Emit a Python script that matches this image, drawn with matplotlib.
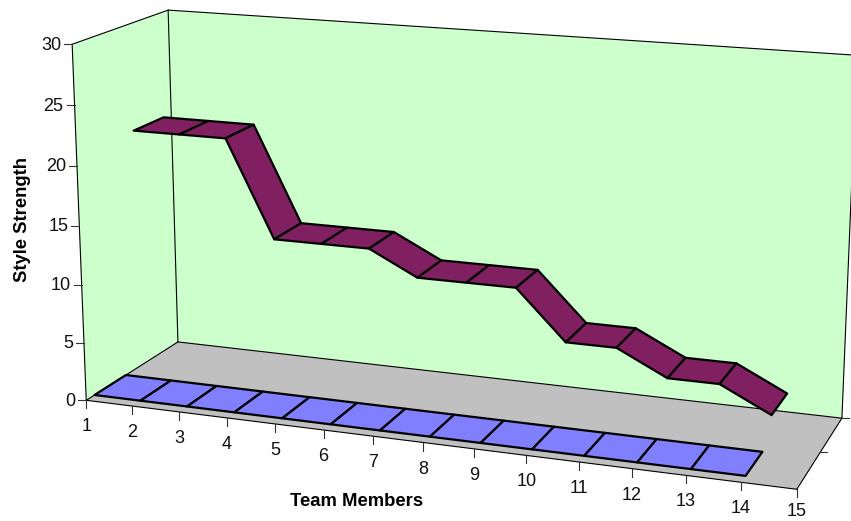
import numpy as np
import matplotlib
matplotlib.use('Agg')
import matplotlib.pyplot as plt
from matplotlib.patches import Polygon

plt.rcParams['font.family'] = ['Liberation Sans', 'DejaVu Sans']

# Data
members = list(range(1, 15))
row_front = [0, 0, 0, 0, 0, 0, 0, 0, 0, 0, 0, 0, 0, 0]
row_back = [20.83, 20.83, 20.83, 12.5, 12.5, 12.5, 10.42, 10.42, 10.42, 6.25, 6.25, 4.17, 4.17, 2.08]
x_ticks = list(range(1, 16))
y_ticks = [0, 5, 10, 15, 20, 25, 30]
depth_ticks = [0.5, 1.0]

# Camera: box corners (member, depth, strength) and where they land on the canvas
anchors = [((1, 0, 0), (86, 400)), ((15, 0, 0), (797, 489)), ((1, 1, 0), (178, 342)),
           ((15, 1, 0), (842, 418)), ((1, 0, 30), (72, 44)), ((1, 1, 30), (168, 10)),
           ((15, 1, 30), (857, 55.5)), ((1, 0, 15), (80, 226)), ((8, 0, 0), (423, 443))]
rows = []
for (x, d, z), (u, v) in anchors:
    rows.append([x, d, z, 1, 0, 0, 0, 0, -u*x, -u*d, -u*z, -u])
    rows.append([0, 0, 0, 0, x, d, z, 1, -v*x, -v*d, -v*z, -v])
cam = np.linalg.svd(np.array(rows, float))[2][-1].reshape(3, 4)


def project(x, d, z):
    h = cam @ np.array([x, d, z, 1.0])
    return h[0] / h[2], h[1] / h[2]


fig = plt.figure(figsize=(8.51, 5.21), dpi=100, facecolor='white')
ax = fig.add_axes([0, 0, 1, 1])
ax.set_xlim(0, 851)
ax.set_ylim(521, 0)
ax.axis('off')


def face(pts, color, lw=0.0, z=1):
    ax.add_patch(Polygon([project(*p) for p in pts], closed=True, facecolor=color,
                         edgecolor='black' if lw else 'none', linewidth=lw,
                         joinstyle='round', zorder=z))


def edge(a, b, lw=0.8, z=2):
    pa, pb = project(*a), project(*b)
    ax.plot([pa[0], pb[0]], [pa[1], pb[1]], color='black', lw=lw, zorder=z,
            solid_capstyle='round')


x0, x1 = x_ticks[0], x_ticks[-1]
ztop = y_ticks[-1]

# Walls and floor
face([(x0, 1, 0), (x1, 1, 0), (x1, 1, ztop), (x0, 1, ztop)], '#CCFFCC')
face([(x0, 0, 0), (x0, 1, 0), (x0, 1, ztop), (x0, 0, ztop)], '#CCFFCC')
face([(x0, 0, 0), (x1, 0, 0), (x1, 1, 0), (x0, 1, 0)], '#C0C0C0')
edge((x0, 0, 0), (x0, 0, ztop))
edge((x0, 0, ztop), (x0, 1, ztop))
edge((x0, 1, 0), (x0, 1, ztop))
edge((x0, 1, ztop), (x1, 1, ztop))
edge((x1, 1, 0), (x1, 1, ztop))
edge((x0, 0, 0), (x1, 0, 0))
edge((x1, 0, 0), (x1, 1, 0))
edge((x0, 0, 0), (x0, 1, 0))
edge((x0, 1, 0), (x1, 1, 0))


# Ribbons, one quad per step
def ribbon(values, d0, d1, color):
    for i in range(len(values) - 1):
        a, b = members[i], members[i + 1]
        face([(a, d0, values[i]), (b, d0, values[i + 1]),
              (b, d1, values[i + 1]), (a, d1, values[i])], color, lw=1.6, z=3 + i * 0.01)


ribbon(row_front, 0.085, 0.415, '#8080FF')
ribbon(row_back, 0.585, 0.915, '#802060')

# Value axis
for t in y_ticks:
    px, py = project(x0, 0, t)
    ax.plot([px - 8, px], [py, py], color='#333333', lw=0.8, zorder=2)
    ax.text(px - 11, py + 1, str(t), ha='right', va='center', fontsize=13, color='#111111')

# Category axis, last label held inside the canvas
for t in x_ticks:
    px, py = project(t, 0, 0)
    ax.plot([px, px], [py, py + 8], color='#333333', lw=0.8, zorder=2)
    ax.text(px, min(py + 26.5, 511.5), str(t), ha='center', va='center', fontsize=13, color='#111111')

# Depth axis ticks
for t in depth_ticks:
    px, py = project(x1, t, 0)
    ax.plot([px, px + 7], [py, py], color='#333333', lw=0.8, zorder=2)

ax.text(357, 502, 'Team Members', ha='center', va='center', fontsize=13.3, fontweight='bold')
ax.text(23, 220, 'Style Strength', ha='center', va='center', rotation=90, fontsize=13.3,
        fontweight='bold')

fig.savefig('out.png', dpi=100)
